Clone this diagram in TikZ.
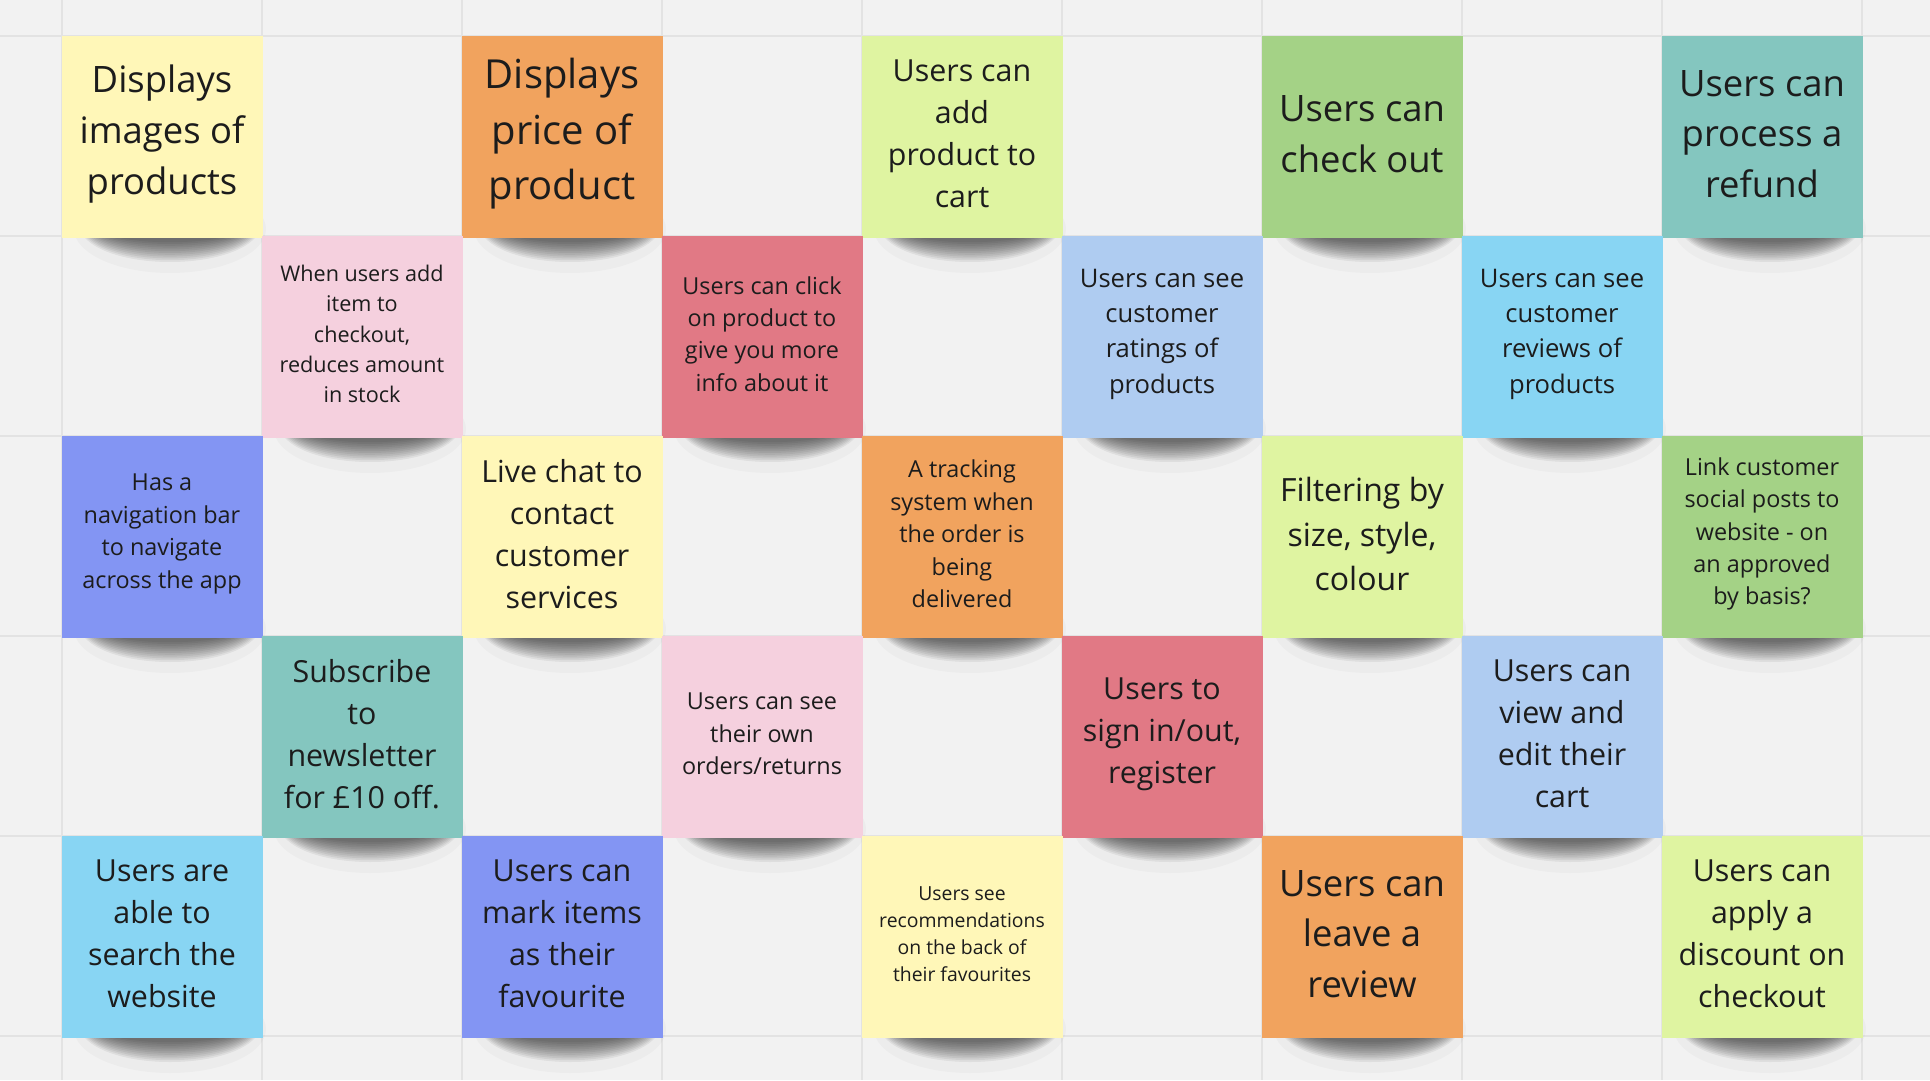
\documentclass[tikz,border=0pt]{standalone}
\usepackage{fontspec}
\setmainfont{Open Sans}
\usetikzlibrary{calc}

\definecolor{boardbg}{HTML}{F2F2F2}
\definecolor{gridgrey}{HTML}{E3E3E3}
\definecolor{inkdark}{HTML}{1C1C1C}
\definecolor{noteyellow}{HTML}{FFF7B8}
\definecolor{noteorange}{HTML}{F1A35E}
\definecolor{notelime}{HTML}{DFF4A1}
\definecolor{notegreen}{HTML}{A4D286}
\definecolor{noteteal}{HTML}{84C6BF}
\definecolor{notepink}{HTML}{F5D0DE}
\definecolor{notered}{HTML}{E17985}
\definecolor{noteblue}{HTML}{AFCCF1}
\definecolor{notecyan}{HTML}{88D5F3}
\definecolor{noteviolet}{HTML}{8395F3}

\tikzset{
  gridline/.style={gridgrey, line width=1pt},
  droplayer/.style={fill=black, opacity=0.06},
  drophalo/.style={fill=black, opacity=0.025},
  note/.style={minimum width=100.5pt, minimum height=101pt, inner sep=0pt},
  notetext/.style={align=center, text=inkdark, inner sep=0pt},
  ftXL/.style={font=\fontsize{20}{27.7}\selectfont},
  ftL/.style={font=\fontsize{18.2}{25.4}\selectfont},
  ftML/.style={font=\fontsize{16}{22.15}\selectfont},
  ftM/.style={font=\fontsize{15.2}{21}\selectfont},
  ftS/.style={font=\fontsize{12.8}{17.65}\selectfont},
  ftXS/.style={font=\fontsize{11.7}{16.2}\selectfont},
  ftXXS/.style={font=\fontsize{10.8}{15.2}\selectfont},
  ftTiny/.style={font=\fontsize{9.7}{13.55}\selectfont},
}

\begin{document}
\begin{tikzpicture}[x=0.5pt,y=-0.5pt]
  \useasboundingbox (0,0) rectangle (1930,1080);
  \fill[boardbg] (0,0) rectangle (1930,1080);
  % board grid, one cell per sticky note
  \foreach \gx in {62,262,...,1862} \draw[gridline] (\gx,0) -- (\gx,1080);
  \foreach \gy in {36,236,...,1036} \draw[gridline] (0,\gy) -- (1930,\gy);
  % name / column / row / colour / text size / text
  \foreach \n/\c/\r/\col/\fs/\txt in {
    imgs/0/0/noteyellow/ftL/{Displays\\images of\\products},
    price/2/0/noteorange/ftXL/{Displays\\price of\\product},
    cart/4/0/notelime/ftM/{Users can\\add\\product to\\cart},
    checkout/6/0/notegreen/ftL/{Users can\\check out},
    refund/8/0/noteteal/ftL/{Users can\\process a\\refund},
    stock/1/1/notepink/ftXXS/{When users add\\item to\\checkout,\\reduces amount\\in stock},
    info/3/1/notered/ftXS/{Users can click\\on product to\\give you more\\info about it},
    ratings/5/1/noteblue/ftS/{Users can see\\customer\\ratings of\\products},
    reviews/7/1/notecyan/ftS/{Users can see\\customer\\reviews of\\products},
    navbar/0/2/noteviolet/ftXS/{Has a\\navigation bar\\to navigate\\across the app},
    chat/2/2/noteyellow/ftM/{Live chat to\\contact\\customer\\services},
    tracking/4/2/noteorange/ftXS/{A tracking\\system when\\the order is\\being\\delivered},
    filter/6/2/notelime/ftML/{Filtering by\\size, style,\\colour},
    social/8/2/notegreen/ftXS/{Link customer\\social posts to\\website - on\\an approved\\by basis?},
    newsletter/1/3/noteteal/ftM/{Subscribe\\to\\newsletter\\for £10 off.},
    orders/3/3/notepink/ftXS/{Users can see\\their own\\orders/returns},
    signin/5/3/notered/ftM/{Users to\\sign in/out,\\register},
    editcart/7/3/noteblue/ftM/{Users can\\view and\\edit their\\cart},
    search/0/4/notecyan/ftM/{Users are\\able to\\search the\\website},
    favourite/2/4/noteviolet/ftM/{Users can\\mark items\\as their\\favourite},
    recs/4/4/noteyellow/ftTiny/{Users see\\recommendations\\on the back of\\their favourites},
    review/6/4/noteorange/ftL/{Users can\\leave a\\review},
    discount/8/4/notelime/ftM/{Users can\\apply a\\discount on\\checkout}} {
    \pgfmathsetmacro{\cx}{162+200*\c}
    \pgfmathsetmacro{\cy}{137+200*\r}
    % soft drop shadow under the bottom edge
    \fill[drophalo] (\cx+8,\cy+92) ellipse [x radius=96, y radius=44];
    \foreach \k in {0,...,11}
      \fill[droplayer] (\cx+8,\cy+89) ellipse [x radius=90-1.4*\k, y radius=36-1.8*\k];
    \node[note, fill=\col] (note-\n) at (\cx,\cy) {};
    \node[notetext, \fs] (text-\n) at ($(note-\n.center)+(0,-3)$) {\txt};
  }
\end{tikzpicture}
\end{document}
